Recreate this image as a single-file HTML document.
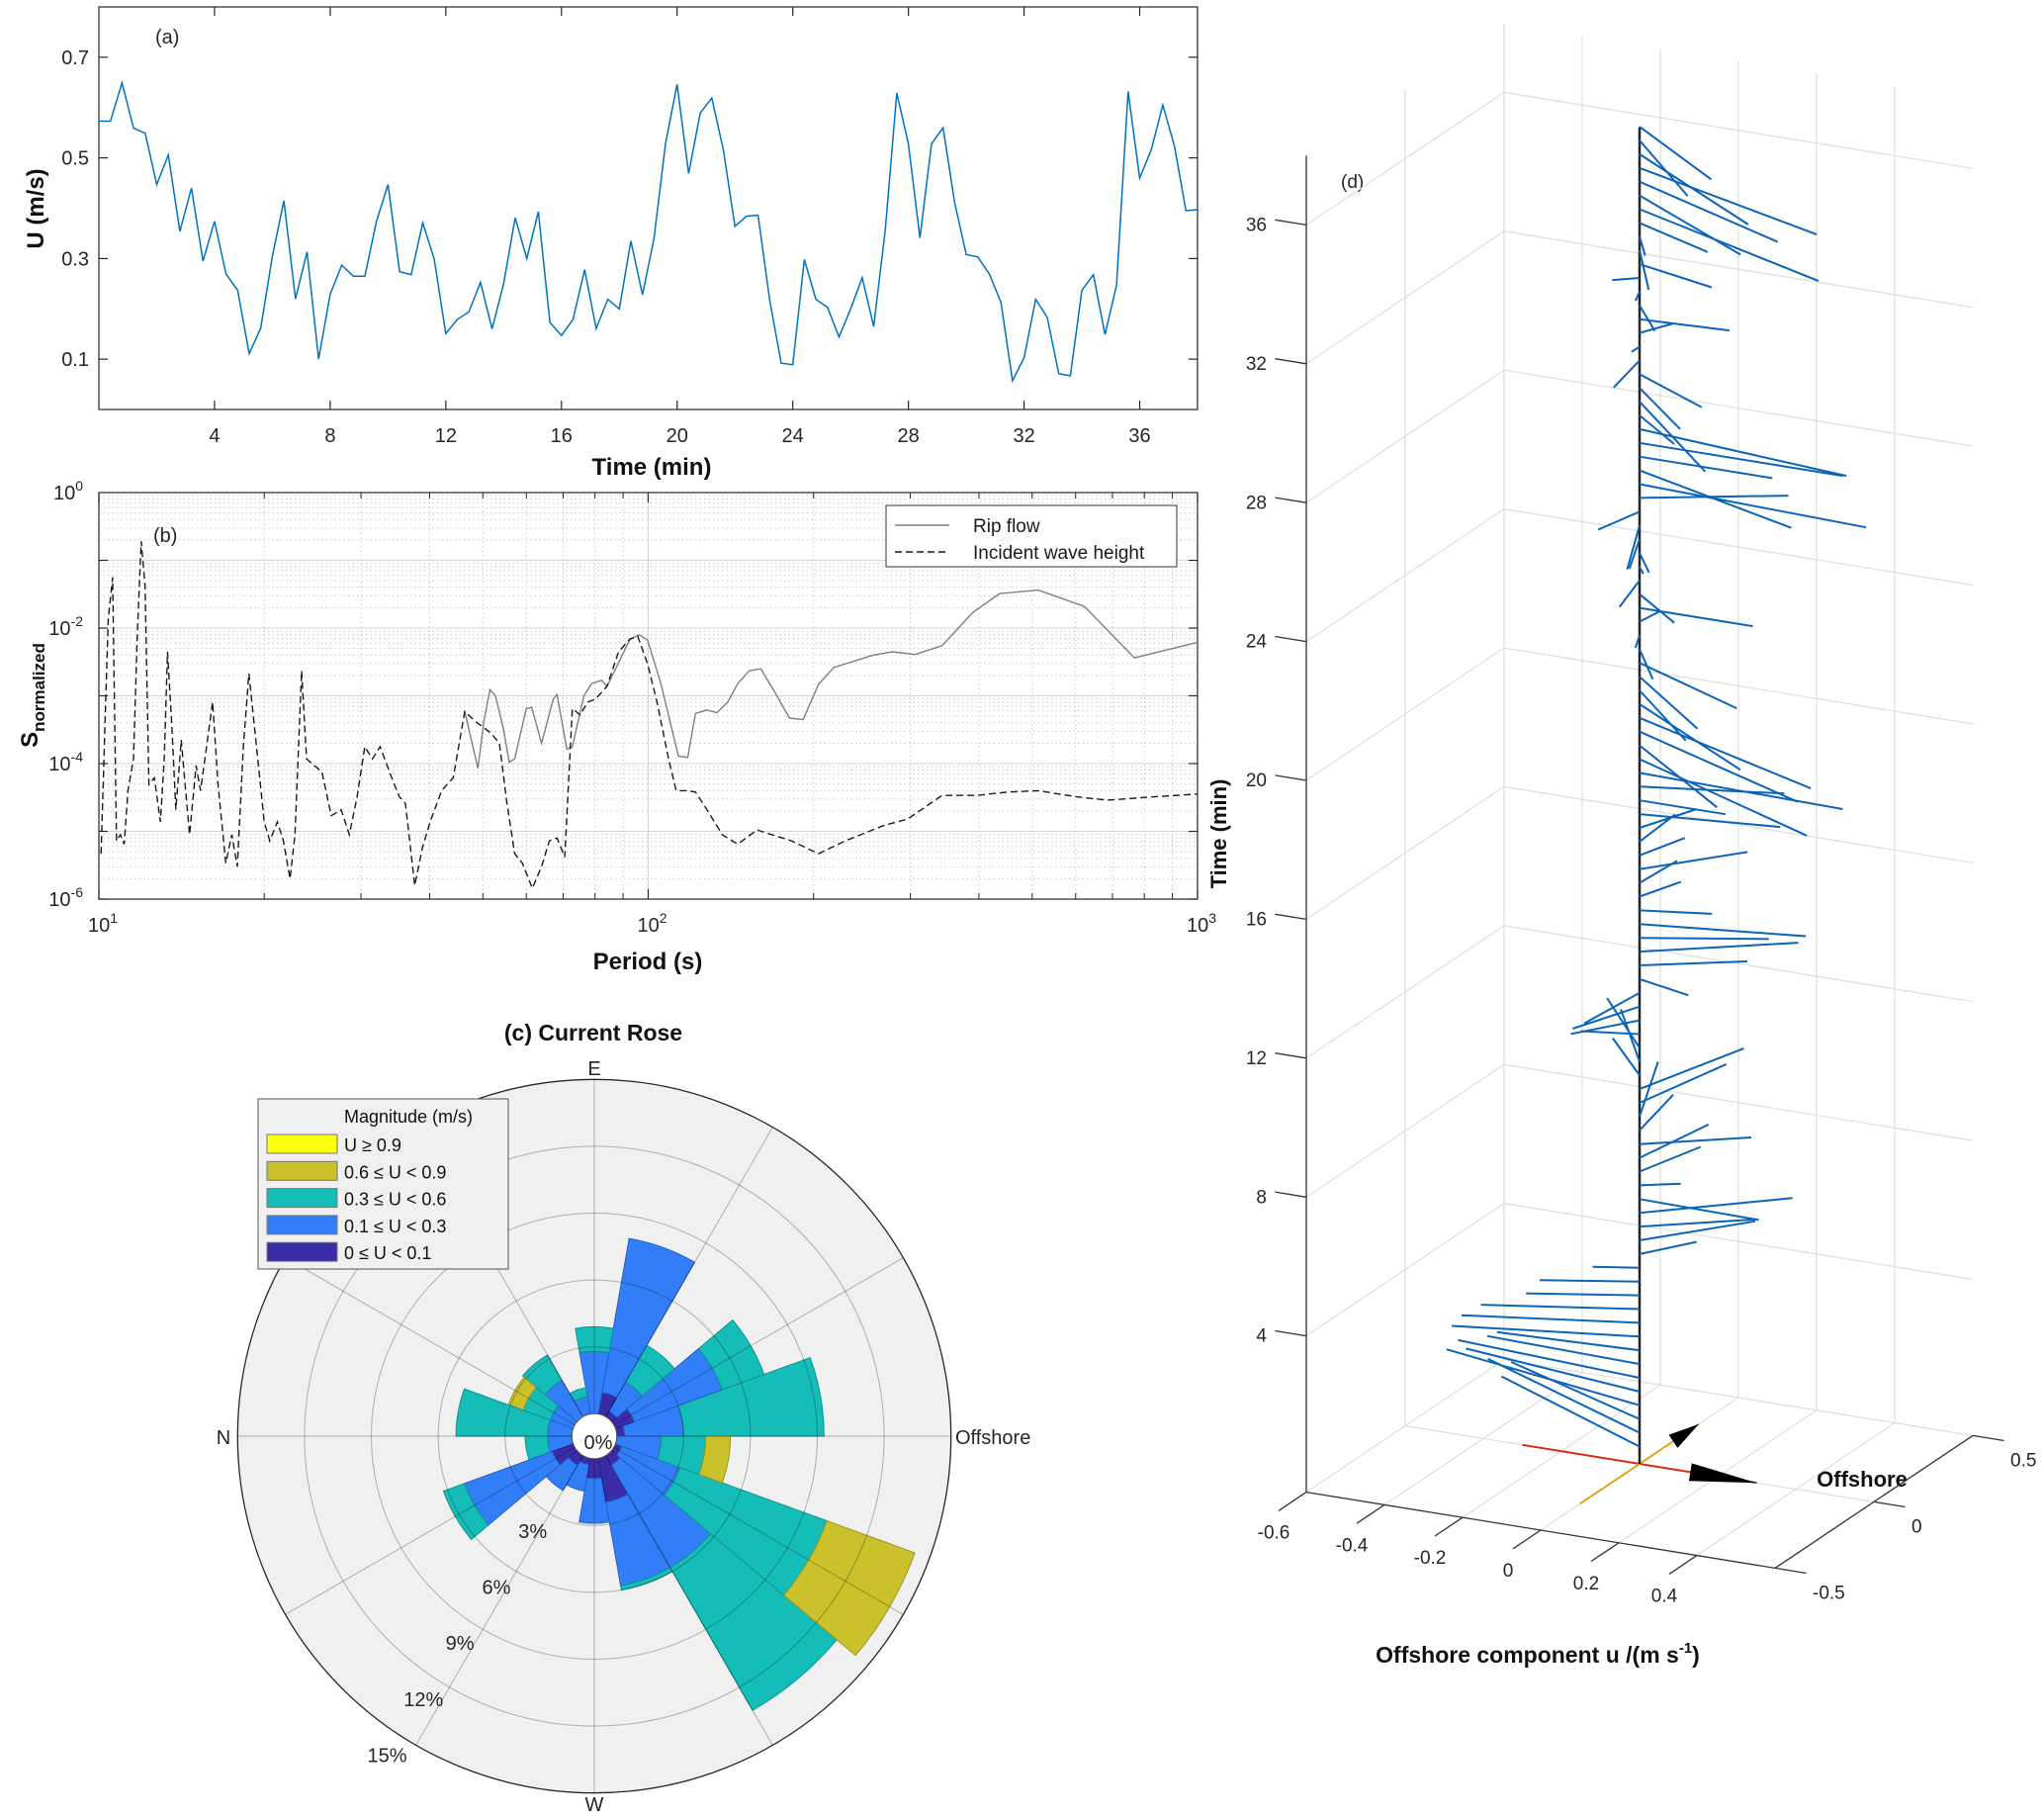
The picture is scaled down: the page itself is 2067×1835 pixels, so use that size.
<!DOCTYPE html>
<html><head><meta charset="utf-8"><title>Rip current figure</title>
<style>
html,body{margin:0;padding:0;background:#fff;}
svg{display:block;font-family:"Liberation Sans",Arial,sans-serif;}
.tk{font-size:20px;fill:#262626;}
.lb{font-size:24px;font-weight:bold;fill:#111;}
</style></head>
<body>
<svg id="fig" width="2067" height="1835" viewBox="0 0 2067 1835" xmlns="http://www.w3.org/2000/svg">
<rect x="0" y="0" width="2067" height="1835" fill="#fff"/>
<g id="pa">
  <rect x="100" y="7" width="1111" height="407" fill="#fff" stroke="#262626" stroke-width="1.2"/>
  <text x="157" y="44" class="tk">(a)</text>
  <text transform="translate(44,211) rotate(-90)" text-anchor="middle" class="lb">U (m/s)</text>
  <text x="659" y="480" text-anchor="middle" class="lb">Time (min)</text>
</g>
<g id="pb">
  <g id="pbgrid"></g>
  <rect x="100" y="498" width="1111" height="411" fill="none" stroke="#262626" stroke-width="1.2"/>
  <text x="155" y="548" class="tk">(b)</text>
  <text transform="translate(38,703) rotate(-90)" text-anchor="middle" class="lb">S<tspan font-size="17" dy="7">normalized</tspan></text>
  <text x="655" y="980" text-anchor="middle" class="lb">Period (s)</text>
</g>
<g id="pc">
  <text x="600" y="1052" text-anchor="middle" font-size="23" font-weight="bold" fill="#111">(c) Current Rose</text>
  <text x="601" y="1087" text-anchor="middle" class="tk">E</text>
  <text x="226" y="1460" text-anchor="middle" class="tk">N</text>
  <text x="966" y="1460" class="tk">Offshore</text>
  <text x="601" y="1831" text-anchor="middle" class="tk">W</text>
</g>
<g id="pd">
  <text x="1356" y="190" font-size="19" fill="#262626">(d)</text>
  <text transform="translate(1240,843) rotate(-90)" text-anchor="middle" font-size="22" font-weight="bold" fill="#111">Time (min)</text>
  <text x="1883" y="1503" text-anchor="middle" font-size="22" font-weight="bold" fill="#111">Offshore</text>
  <text x="1555" y="1681" text-anchor="middle" font-size="23" font-weight="bold" fill="#111">Offshore component u /(m s<tspan font-size="15" dy="-10">-1</tspan><tspan dy="10">)</tspan></text>
</g>
</svg>
<script>
// ---------- Panel (a) data ----------
const aDt = 0.4;
const aSpeed = [0.573,0.573,0.649,0.559,0.549,0.447,0.506,0.354,0.44,0.295,
0.374,0.269,0.237,0.111,0.162,0.304,0.415,0.22,0.313,0.1,
0.229,0.287,0.265,0.265,0.374,0.447,0.274,0.268,0.371,0.299,
0.151,0.179,0.194,0.253,0.16,0.25,0.381,0.3,0.393,0.173,
0.147,0.179,0.278,0.161,0.219,0.2,0.335,0.228,0.339,0.528,
0.646,0.469,0.589,0.619,0.516,0.364,0.384,0.386,0.218,0.092,
0.089,0.298,0.219,0.203,0.144,0.2,0.262,0.165,0.356,0.629,
0.528,0.341,0.528,0.56,0.411,0.308,0.303,0.269,0.213,0.057,
0.103,0.219,0.183,0.071,0.067,0.237,0.268,0.149,0.247,0.632,
0.46,0.516,0.605,0.524,0.395,0.397];
const aXTicks = [4,8,12,16,20,24,28,32,36];
const aYTicks = [0.1,0.3,0.5,0.7];

// ---------- Panel (b) data (log10 values) ----------
const ripLogP = [1.666,1.690,1.701,1.712,1.722,1.736,1.747,1.757,1.778,1.788,1.806,1.827,1.834,1.852,1.862,1.883,1.897,1.915,1.925,1.939,1.967,1.984,1.999,2.023,2.055,2.072,2.086,2.107,2.125,2.145,2.163,2.184,2.205,2.233,2.257,2.282,2.310,2.338,2.374,2.409,2.444,2.486,2.535,2.591,2.640,2.710,2.794,2.885,3.0];
const ripLogS = [-3.23,-4.07,-3.37,-2.91,-3.00,-3.47,-3.98,-3.93,-3.19,-3.17,-3.70,-3.05,-2.98,-3.79,-3.75,-3.00,-2.82,-2.77,-2.86,-2.63,-2.16,-2.10,-2.18,-2.82,-3.89,-3.91,-3.26,-3.21,-3.25,-3.09,-2.82,-2.63,-2.60,-2.98,-3.33,-3.35,-2.83,-2.58,-2.49,-2.40,-2.35,-2.39,-2.26,-1.77,-1.49,-1.44,-1.68,-2.44,-2.21];
const waveLogP = [1.004,1.017,1.025,1.032,1.039,1.046,1.053,1.063,1.070,1.077,1.084,1.091,1.101,1.112,1.119,1.125,1.133,1.140,1.150,1.157,1.165,1.177,1.185,1.196,1.207,1.217,1.231,1.242,1.252,1.263,1.273,1.287,1.301,1.311,1.325,1.336,1.348,1.357,1.369,1.378,1.392,1.406,1.423,1.441,1.456,1.470,1.484,1.498,1.512,1.533,1.547,1.558,1.575,1.589,1.603,1.624,1.645,1.666,1.684,1.701,1.715,1.729,1.743,1.757,1.771,1.789,1.806,1.820,1.834,1.848,1.862,1.876,1.890,1.904,1.925,1.946,1.967,1.981,1.999,2.016,2.037,2.051,2.072,2.086,2.107,2.135,2.163,2.198,2.233,2.261,2.310,2.359,2.430,2.472,2.535,2.598,2.654,2.710,2.780,2.836,2.920,3.0];
const waveLogS = [-5.33,-1.88,-1.25,-5.14,-5.05,-5.19,-4.40,-3.93,-2.07,-0.72,-1.37,-4.31,-4.21,-4.86,-3.93,-2.35,-3.47,-4.68,-3.65,-4.31,-5.05,-4.03,-4.40,-3.75,-3.09,-4.31,-5.47,-5.05,-5.52,-3.75,-2.67,-3.75,-4.86,-5.14,-4.86,-5.14,-5.70,-5.05,-2.63,-3.93,-4.03,-4.12,-4.77,-4.68,-5.05,-4.49,-3.75,-3.93,-3.75,-4.21,-4.49,-4.59,-5.80,-5.24,-4.86,-4.40,-4.21,-3.23,-3.37,-3.47,-3.56,-3.70,-4.59,-5.33,-5.47,-5.84,-5.52,-5.14,-5.10,-5.38,-3.19,-3.28,-3.09,-3.05,-2.86,-2.35,-2.16,-2.12,-2.53,-3.09,-3.93,-4.40,-4.40,-4.42,-4.68,-5.05,-5.19,-4.98,-5.07,-5.14,-5.33,-5.14,-4.91,-4.82,-4.47,-4.47,-4.42,-4.40,-4.49,-4.54,-4.49,-4.45];
const bXTickExp = [1,2,3];
const bYTickExp = [0,-2,-4,-6];

// ---------- Panel (c) data (% frequency per 20-degree bin, per class) ----------
const roseBinWidth = 20;
const roseDark  = [0.35,0.9,0.3,1.0,0,0,0,0,0,0,1.0,0.5,0.3,0.9,2.0,0.5,0.3,0];
const roseBlue  = [2.65,4.2,1.5,7.0,2.8,0.8,1.9,1.1,1.1,1.1,4.2,1.3,1.2,2.0,3.8,5.3,2.8,2.0];
const roseTeal  = [6.3,2.0,1.9,0,1.1,0.4,1.3,1.3,4.1,1.0,1.0,0,0,0,0.2,7.4,7.0,2.0];
const roseOlive = [0,0,0,0,0,0,0,0.7,0,0,0,0,0,0,0,0,4.2,1.1];
const roseYellow= [0,0,0,0,0,0,0,0,0,0,0,0,0,0,0,0,0,0];
const roseRings = [3,6,9,12,15];
const roseLegend = ['U \u2265 0.9','0.6 \u2264 U < 0.9','0.3 \u2264 U < 0.6','0.1 \u2264 U < 0.3','0 \u2264 U < 0.1'];

// ---------- Panel (d) data ----------
const qDt = 0.396;
const qU = [-0.50,-0.54,-0.44,-0.57,-0.49,-0.49,-0.40,-0.35,-0.42,-0.39,
-0.34,-0.24,-0.21,-0.10,0.08,0.18,0.22,0.27,0.31,0.08,
0.05,0.04,0.21,-0.04,-0.13,0.06,0.09,-0.17,-0.20,-0.22,
-0.13,-0.10,-0.07,-0.02,0.15,0.21,0.30,0.27,0.38,0.16,
0.04,0.01,0.17,0.04,-0.01,0.06,0.33,0.22,0.32,0.53,
0.58,0.35,0.54,0.57,0.41,0.25,0.28,0.34,0.12,0.03,
0.01,0.29,0.16,0.04,0.03,0.08,0.07,0.11,-0.03,0.30,
0.60,0.49,0.34,0.52,0.57,0.16,0.35,0.21,0.23,0.03,
0.00,0.04,0.22,0.11,0.02,-0.05,0.22,0.14,0.07,0.23,
0.59,0.39,0.47,0.57,0.44,0.27,0.31];
const qV = [0.29,0.30,0.22,0.15,0.09,0.05,0.02,-0.03,-0.12,-0.13,
-0.13,-0.10,-0.09,-0.04,0.13,0.23,0.16,0.24,-0.01,0.05,
0.21,0.27,0.15,0.25,0.35,0.32,0.35,0.20,0.30,0.27,
-0.04,-0.15,-0.20,-0.24,-0.05,0.13,0.21,0.12,0.09,0.05,
0.13,0.17,0.21,0.15,0.20,0.17,0.06,0.00,0.10,-0.02,
-0.30,-0.30,-0.27,-0.26,-0.30,-0.26,-0.26,-0.18,-0.17,-0.08,
0.08,0.00,-0.14,-0.18,-0.04,-0.11,-0.19,-0.28,-0.15,0.16,
-0.04,-0.20,0.00,0.00,-0.08,-0.14,-0.36,-0.21,-0.14,-0.19,
-0.04,0.09,0.02,-0.14,-0.06,-0.04,-0.07,-0.23,-0.11,-0.11,
-0.26,-0.26,-0.23,-0.23,-0.32,-0.29,-0.25];
const dTTicks = [4,8,12,16,20,24,28,32,36];
const dUTicks = [-0.6,-0.4,-0.2,0,0.2,0.4];
const dVTicks = [-0.5,0,0.5];

const NS = 'http://www.w3.org/2000/svg';
function mk(tag, attrs, parent){
  const e = document.createElementNS(NS, tag);
  for (const k in attrs) e.setAttribute(k, attrs[k]);
  parent.appendChild(e);
  return e;
}
const pa = document.getElementById('pa');
const pb = document.getElementById('pb');
const pbg = document.getElementById('pbgrid');
const pc = document.getElementById('pc');
const pd = document.getElementById('pd');

// ===== Panel (a) =====
const xA = t => 100 + t / 38 * 1111;
const yA = v => 414 - v / 0.8 * 407;
aXTicks.forEach(t => {
  [[414,-9],[7,9]].forEach(([y0,d]) => {
    const tk = mk('line', {x1:xA(t), x2:xA(t), y1:y0, y2:y0+d, stroke:'#262626', 'stroke-width':1.2}, pa);
    
    
  });
  const lab = mk('text', {x:xA(t), y:447, 'text-anchor':'middle', class:'tk'}, pa);
  lab.textContent = t;
  
  
});
aYTicks.forEach(v => {
  [[100,9],[1211,-9]].forEach(([x0,d]) => {
    const tk = mk('line', {x1:x0, x2:x0+d, y1:yA(v), y2:yA(v), stroke:'#262626', 'stroke-width':1.2}, pa);
    
    
  });
  const lab = mk('text', {x:90, y:yA(v)+7, 'text-anchor':'end', class:'tk'}, pa);
  lab.textContent = v.toFixed(1);
  
  
});
const aLine = mk('polyline', {points: aSpeed.map((v,i)=>xA(i*aDt).toFixed(1)+','+yA(v).toFixed(1)).join(' '), fill:'none', stroke:'#0072BD', 'stroke-width':1.5}, pa);



// ===== Panel (b) =====
const xB = lp => 100 + (lp - 1) / 2 * 1111;
const yB = ls => 498 - ls / 6 * 411;
for (let d = 1; d <= 2; d++) {
  for (let k = 1; k <= 9; k++) {
    const lp = d + Math.log10(k);
    if (lp <= 1) continue;
    const g = mk('line', {x1:xB(lp), x2:xB(lp), y1:498, y2:909, stroke: k===1?'#d4d4d4':'#c8c8c8', 'stroke-width':1, 'stroke-dasharray': k===1?'none':'1.5,3'}, pbg);
    
    
  }
  for (let k = 2; k <= 9; k++) {
    const lp = d + Math.log10(k);
    [[909,-6],[498,6]].forEach(([y0,dd]) => {
      const t = mk('line', {x1:xB(lp), x2:xB(lp), y1:y0, y2:y0+dd, stroke:'#262626', 'stroke-width':1}, pb);
      
      
    });
  }
}
for (let e = -6; e <= -1; e++) {
  for (let k = 1; k <= 9; k++) {
    const ls = e + Math.log10(k);
    if (ls <= -6) continue;
    const g = mk('line', {x1:100, x2:1211, y1:yB(ls), y2:yB(ls), stroke: k===1?'#d4d4d4':'#c8c8c8', 'stroke-width':1, 'stroke-dasharray': k===1?'none':'1.5,3'}, pbg);
    
    
  }
  [[100,9],[1211,-9]].forEach(([x0,dd]) => {
    const t = mk('line', {x1:x0, x2:x0+dd, y1:yB(e), y2:yB(e), stroke:'#262626', 'stroke-width':1.2}, pb);
    
    
  });
}
bXTickExp.forEach(ex => {
  [[909,-10],[498,10]].forEach(([y0,dd]) => {
    const t = mk('line', {x1:xB(ex), x2:xB(ex), y1:y0, y2:y0+dd, stroke:'#262626', 'stroke-width':1.2}, pb);
    
    
  });
  const lab = mk('text', {x:xB(ex)+4, y:942, 'text-anchor':'middle', class:'tk'}, pb);
  
  
  lab.appendChild(document.createTextNode('10'));
  const sp = mk('tspan', {dy:-9, 'font-size':14}, lab);
  sp.textContent = ex;
});
bYTickExp.forEach(ex => {
  const lab = mk('text', {x:84, y:yB(ex)+7, 'text-anchor':'end', class:'tk'}, pb);
  
  
  lab.appendChild(document.createTextNode('10'));
  const sp = mk('tspan', {dy:-9, 'font-size':14}, lab);
  sp.textContent = ex;
});
const ripLine = mk('polyline', {points: ripLogP.map((p,i)=>xB(p).toFixed(1)+','+yB(ripLogS[i]).toFixed(1)).join(' '), fill:'none', stroke:'#7f7f7f', 'stroke-width':1.4}, pb);


const waveLine = mk('polyline', {points: waveLogP.map((p,i)=>xB(p).toFixed(1)+','+yB(waveLogS[i]).toFixed(1)).join(' '), fill:'none', stroke:'#1a1a1a', 'stroke-width':1.4, 'stroke-dasharray':'7,4'}, pb);


// legend
const bLeg = mk('g', {}, pb);


const bLegBox = mk('rect', {x:896, y:511, width:294, height:62, fill:'#fff', stroke:'#333', 'stroke-width':1}, bLeg);


[['Rip flow','#7f7f7f','none',531],['Incident wave height','#1a1a1a','7,4',558]].forEach(([txt,col,da,y]) => {
  const ln = mk('line', {x1:905, x2:960, y1:y, y2:y, stroke:col, 'stroke-width':1.4, 'stroke-dasharray':da}, bLeg);
  
  
  const tx = mk('text', {x:984, y:y+7, 'font-size':19, fill:'#1a1a1a'}, bLeg);
  tx.textContent = txt;
  
  
});

// ===== Panel (c) rose =====
const cx = 601, cy = 1452;
const rP = p => 22.7 + p / 3 * 67.6;
const pt = (r, a) => [cx + r * Math.cos(a * Math.PI / 180), cy - r * Math.sin(a * Math.PI / 180)];
const bg = mk('circle', {cx:cx, cy:cy, r:rP(15), fill:'#f0f0f0', stroke:'none'}, pc);


const classes = [[roseDark,'#3a2ca6','#2a1e80','dark'],[roseBlue,'#327ef8','#2160c8','blue'],[roseTeal,'#15bdb8','#0e938f','teal'],[roseOlive,'#cbc12a','#9c9420','olive'],[roseYellow,'#ffff10','#c8c800','yellow']];
for (let i = 0; i < roseDark.length; i++) {
  let cum = 0;
  const a0 = i * roseBinWidth, a1 = (i + 1) * roseBinWidth;
  classes.forEach(([arr, fill, strk, nm]) => {
    const f = arr[i];
    if (f <= 0) return;
    const r0 = rP(cum), r1 = rP(cum + f);
    cum += f;
    const p1 = pt(r0,a0), p2 = pt(r1,a0), p3 = pt(r1,a1), p4 = pt(r0,a1);
    const d = `M${p1[0].toFixed(1)},${p1[1].toFixed(1)} L${p2[0].toFixed(1)},${p2[1].toFixed(1)} A${r1.toFixed(1)},${r1.toFixed(1)} 0 0 0 ${p3[0].toFixed(1)},${p3[1].toFixed(1)} L${p4[0].toFixed(1)},${p4[1].toFixed(1)} A${r0.toFixed(1)},${r0.toFixed(1)} 0 0 1 ${p1[0].toFixed(1)},${p1[1].toFixed(1)} Z`;
    const s = mk('path', {d:d, fill:fill, stroke:strk, 'stroke-width':1}, pc);
    
    
  });
}
roseRings.forEach(p => {
  const c = mk('circle', {cx:cx, cy:cy, r:rP(p), fill:'none', stroke: p===15?'#262626':'rgba(0,0,0,0.28)', 'stroke-width': p===15?1.3:1}, pc);
  
  
  const lp = pt(rP(p) + 24, 237);
  const t = mk('text', {x:lp[0], y:lp[1]+7, 'text-anchor':'middle', class:'tk'}, pc);
  t.textContent = p + '%';
  
  
});
for (let a = 0; a < 360; a += 30) {
  const p0 = pt(rP(0), a), p1 = pt(rP(15), a);
  const s = mk('line', {x1:p0[0], y1:p0[1], x2:p1[0], y2:p1[1], stroke:'rgba(0,0,0,0.28)', 'stroke-width':1}, pc);
  
  
}
const hole = mk('circle', {cx:cx, cy:cy, r:rP(0), fill:'#fff', stroke:'#555', 'stroke-width':1}, pc);


const zl = mk('text', {x:cx+4, y:cy+13, 'text-anchor':'middle', class:'tk'}, pc);
zl.textContent = '0%';


// legend
const cLeg = mk('g', {}, pc);


const cBox = mk('rect', {x:261, y:1111, width:253, height:172, fill:'#f0f0f0', stroke:'#555', 'stroke-width':1}, cLeg);


const cTitle = mk('text', {x:348, y:1135, 'font-size':18, fill:'#111'}, cLeg);
cTitle.textContent = 'Magnitude (m/s)';


const legCols = ['#ffff10','#cbc12a','#15bdb8','#327ef8','#3a2ca6'];
roseLegend.forEach((txt, k) => {
  const y = 1157 + k * 27.3;
  const sw = mk('rect', {x:270, y:y-10, width:71, height:19, fill:legCols[k], stroke:'#777', 'stroke-width':1}, cLeg);
  
  
  const t = mk('text', {x:348, y:y+7, 'font-size':18, fill:'#111'}, cLeg);
  t.textContent = txt;
  
  
});

// ===== Panel (d) 3-D quiver =====
const U = [395, 64], V = [200, -134], TT = 35.1, O = [1658, 1480], tmin = -0.5, tmax = 38;
const P = (u, v, t) => [O[0] + u*U[0] + v*V[0], O[1] + u*U[1] + v*V[1] - (t - tmin)*TT];
function seg(a, b, col, w, name, parent) {
  const l = mk('line', {x1:a[0].toFixed(1), y1:a[1].toFixed(1), x2:b[0].toFixed(1), y2:b[1].toFixed(1), stroke:col, 'stroke-width':w}, parent);
  
  
  return l;
}
const gridCol = '#dedede';
// wall horizontal gridlines
dTTicks.forEach(t => {
  seg(P(-0.6,-0.5,t), P(-0.6,0.5,t), gridCol, 1.2, 'left-wall-grid', pd);
  seg(P(-0.6,0.5,t), P(0.6,0.5,t), gridCol, 1.2, 'back-wall-grid', pd);
});
// wall vertical gridlines
seg(P(-0.6,0,tmin), P(-0.6,0,tmax), gridCol, 1.2, 'left-wall-vgrid', pd);
seg(P(-0.6,0.5,tmin), P(-0.6,0.5,tmax), gridCol, 1.2, 'wall-corner-line', pd);
[-0.4,-0.2,0,0.2,0.4].forEach(u => {
  seg(P(u,0.5,tmin), P(u,0.5,tmax), gridCol, 1.2, 'back-wall-vgrid', pd);
  seg(P(u,-0.5,tmin), P(u,0.5,tmin), gridCol, 1.2, 'floor-grid', pd);
});
seg(P(-0.6,-0.5,tmin), P(-0.6,0.5,tmin), gridCol, 1.2, 'floor-grid', pd);
seg(P(-0.6,0,tmin), P(0.6,0,tmin), gridCol, 1.2, 'floor-grid', pd);
seg(P(-0.6,0.5,tmin), P(0.6,0.5,tmin), gridCol, 1.2, 'floor-grid', pd);
// axes
seg(P(-0.6,-0.5,tmin), P(-0.6,-0.5,tmax), '#333', 1.3, 'time-axis', pd);
seg(P(-0.6,-0.5,tmin), P(0.6,-0.5,tmin), '#333', 1.3, 'u-axis', pd);
seg(P(0.6,-0.5,tmin), P(0.6,0.5,tmin), '#333', 1.3, 'v-axis', pd);
dTTicks.forEach(t => {
  const a = P(-0.6,-0.5,t);
  seg(a, P(-0.68,-0.5,t), '#333', 1.3, 'time-tick', pd);
  const lab = mk('text', {x:a[0]-40, y:a[1]+6, 'text-anchor':'end', 'font-size':19, fill:'#262626'}, pd);
  lab.textContent = t;
  
  
});
dUTicks.forEach(u => {
  const a = P(u,-0.5,tmin);
  seg(a, P(u,-0.64,tmin), '#333', 1.3, 'u-tick', pd);
  const lab = mk('text', {x:a[0]-33, y:a[1]+47, 'text-anchor':'middle', 'font-size':19, fill:'#262626'}, pd);
  lab.textContent = u === 0 ? '0' : u.toFixed(1);
  
  
});
dVTicks.forEach(v => {
  const a = P(0.6,v,tmin);
  seg(a, P(0.68,v,tmin), '#333', 1.3, 'v-tick', pd);
  const lab = mk('text', {x:a[0]+38, y:a[1]+31, 'text-anchor':'start', 'font-size':19, fill:'#262626'}, pd);
  lab.textContent = v === 0 ? '0' : v.toFixed(1);
  
  
});
// direction indicator
seg(P(-0.3,0,tmin), P(0.3,0,tmin), '#d62a0a', 2, 'offshore-direction-line', pd);
seg(P(0,-0.3,tmin), P(0,0.3,tmin), '#e8a010', 2, 'alongshore-direction-line', pd);
function arrowHead(tip, base, w, name) {
  const dx = tip[0]-base[0], dy = tip[1]-base[1], L = Math.hypot(dx,dy);
  const nx = -dy/L*w, ny = dx/L*w;
  const pg = mk('polygon', {points:`${tip[0]},${tip[1]} ${base[0]+nx},${base[1]+ny} ${base[0]-nx},${base[1]-ny}`, fill:'#000'}, pd);
  
  
}
arrowHead(P(0.3,0,tmin), P(0.13,0,tmin), 9, 'offshore-arrow-head');
arrowHead(P(0,0.3,tmin), P(0,0.17,tmin), 8, 'alongshore-arrow-head');
// stem
seg(P(0,0,tmin), P(0,0,tmax), '#222', 2.5, 'time-stem', pd);
// quivers
qU.forEach((u, i) => {
  const t = i * qDt;
  const b = P(0,0,t);
  const e = [b[0] + u*U[0] + qV[i]*V[0], b[1] + u*U[1] + qV[i]*V[1]];
  const q = mk('line', {x1:b[0].toFixed(1), y1:b[1].toFixed(1), x2:e[0].toFixed(1), y2:e[1].toFixed(1), stroke:'#0b64b8', 'stroke-width':2}, pd);
  
  
});
</script>
</body></html>
